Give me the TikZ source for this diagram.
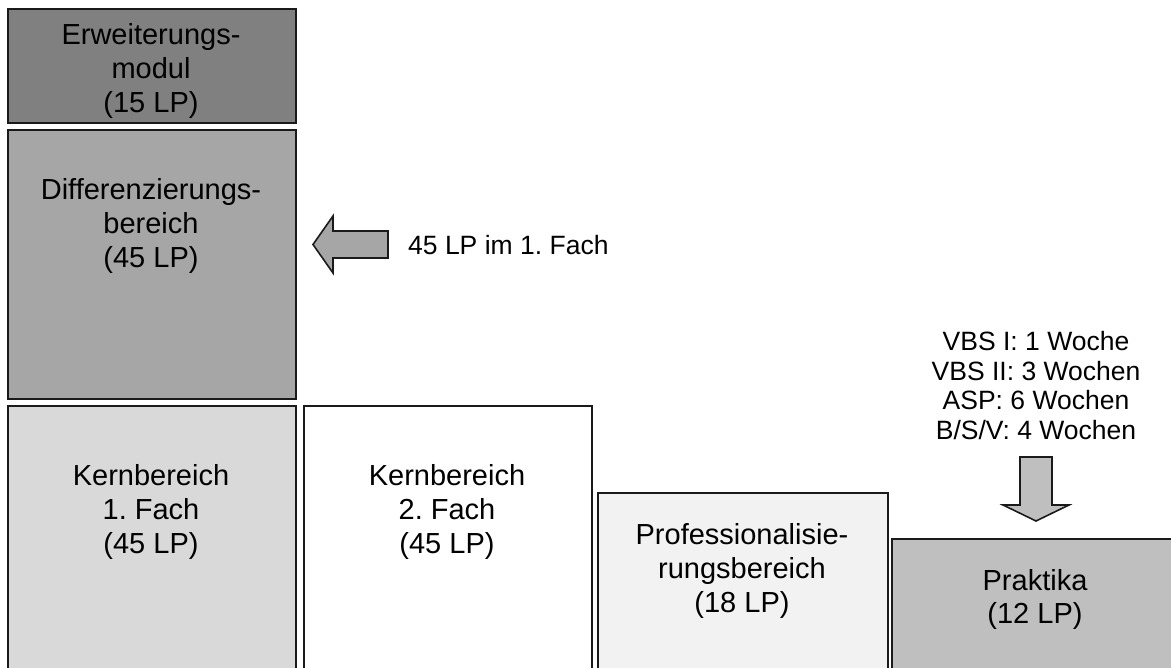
\documentclass[tikz,border=0pt]{standalone}
\usepackage{fontspec}
\setmainfont{Liberation Sans}
\frenchspacing
\definecolor{cErw}{HTML}{808080}
\definecolor{cDiff}{HTML}{A6A6A6}
\definecolor{cKone}{HTML}{D9D9D9}
\definecolor{cProf}{HTML}{F2F2F2}
\definecolor{cPrak}{HTML}{BFBFBF}
\definecolor{cLine}{HTML}{1A1A1A}
\begin{document}
\begin{tikzpicture}[x=1pt,y=-1pt,
  box/.style={draw=cLine,line width=2pt,rectangle,inner sep=0pt,anchor=north west},
  lbl/.style={align=center,inner sep=0pt,anchor=base,font=\fontsize{29}{34}\selectfont},
  side/.style={align=center,inner sep=0pt,anchor=base,font=\fontsize{26.5}{29.5}\selectfont},
  blockarrow/.style={draw=cLine,line width=1.6pt,line join=miter}]
\useasboundingbox (0,0) rectangle (1171,668);
\clip (0,0) rectangle (1171,668);
% boxes
\node[box,fill=cErw,minimum width=288pt,minimum height=114pt] (erw) at (7,8) {};
\node[box,fill=cDiff,minimum width=288pt,minimum height=269pt] (diff) at (7,129) {};
\node[box,fill=cKone,minimum width=288pt,minimum height=290pt] (kone) at (7,405) {};
\node[box,fill=white,minimum width=288pt,minimum height=290pt] (ktwo) at (303,405) {};
\node[box,fill=cProf,minimum width=290pt,minimum height=200pt] (prof) at (597,492) {};
\node[box,fill=cPrak,minimum width=300pt,minimum height=160pt] (prak) at (891,538) {};
% texts (base anchor = baseline of the last line)
\node[lbl] (terw) at (151,113) {Erweiterungs-\\modul\\(15 LP)};
\node[lbl] (tdiff) at (151,268) {Differenzierungs-\\bereich\\(45 LP)};
\node[lbl] (tkone) at (151,553) {Kernbereich\\1. Fach\\(45 LP)};
\node[lbl] (tktwo) at (447,553) {Kernbereich\\2. Fach\\(45 LP)};
\node[lbl] (tprof) at (742,612) {Professionalisie-\\rungsbereich\\(18 LP)};
\node[lbl,font=\fontsize{29}{33}\selectfont] (tprak) at (1035,623) {Praktika\\(12 LP)};
\node[side,anchor=base west] (tfach) at (408,255) {45 LP im 1. Fach};
\node[side] (tvbs) at (1036,439) {VBS I: 1 Woche\\VBS II: 3 Wochen\\ASP: 6 Wochen\\B/S/V: 4 Wochen};
% block arrows
\draw[blockarrow,fill=cDiff] (388,231) -- (333,231) -- (333,216) -- (313,244.5) -- (333,273) -- (333,258) -- (388,258) -- cycle;
\draw[blockarrow,fill=cPrak] (1020,457) -- (1052,457) -- (1052,505) -- (1069,505) -- (1036,521) -- (1003,505) -- (1020,505) -- cycle;
\end{tikzpicture}
\end{document}
